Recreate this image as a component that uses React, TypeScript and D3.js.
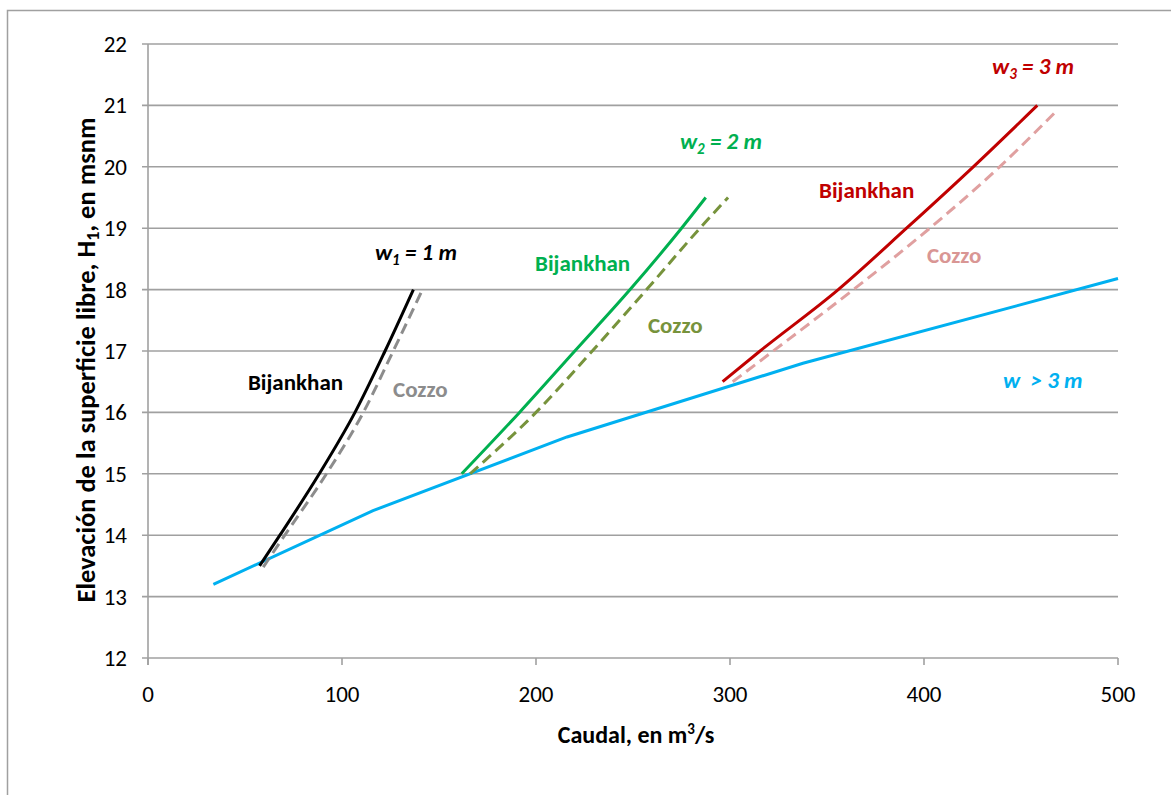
import React, { useRef, useEffect } from "react";
import * as d3 from "d3";

type Pt = [number, number];

// caudal (m3/s), elevación H1 (msnm)
const bijankhanW1: Pt[] = [[57.5, 13.5], [68, 14], [88.3, 15], [106.7, 16], [122.2, 17], [136.8, 18]];
const cozzoW1: Pt[] = [[59.4, 13.48], [70.5, 14], [92, 15], [111, 16], [126.4, 17], [141.5, 18]];
const bijankhanW2: Pt[] = [[161.7, 15], [191.5, 16], [220, 17], [248.5, 18], [275, 19], [287.5, 19.5]];
const cozzoW2: Pt[] = [[166, 15], [200, 16], [229, 17], [257, 18], [284.5, 19], [299, 19.5]];
const bijankhanW3: Pt[] = [[296.2, 16.5], [315.5, 17], [355.8, 18], [391, 19], [425.4, 20], [458.4, 21]];
const cozzoW3: Pt[] = [[301.4, 16.5], [322.3, 17], [363.6, 18], [403, 19], [439, 20], [468, 20.9]];
const wideChannel: Pt[] = [[33.7, 13.2], [116, 14.4], [216, 15.6], [337.6, 16.8], [500, 18.18]];

const xTicks = [0, 100, 200, 300, 400, 500];
const yTicks = [12, 13, 14, 15, 16, 17, 18, 19, 20, 21, 22];

const series = [
  { data: wideChannel, color: "#00b0f0", dash: null, curve: d3.curveLinear },
  { data: cozzoW1, color: "#8c8c8c", dash: "11,6", curve: d3.curveMonotoneX },
  { data: bijankhanW1, color: "#000000", dash: null, curve: d3.curveMonotoneX },
  { data: cozzoW2, color: "#77933c", dash: "11,6", curve: d3.curveMonotoneX },
  { data: bijankhanW2, color: "#00b050", dash: null, curve: d3.curveMonotoneX },
  { data: cozzoW3, color: "#e0a0a0", dash: "11,6", curve: d3.curveMonotoneX },
  { data: bijankhanW3, color: "#c00000", dash: null, curve: d3.curveMonotoneX },
];

// text labels: [x, y] in data units
const labels = [
  { text: "Bijankhan", at: [51.5, 16.36], color: "#000000" },
  { text: "Cozzo", at: [126.3, 16.25], color: "#8c8c8c" },
  { text: "Bijankhan", at: [199.5, 18.3], color: "#00b050" },
  { text: "Cozzo", at: [257.7, 17.29], color: "#77933c" },
  { text: "Bijankhan", at: [345.9, 19.49], color: "#c00000" },
  { text: "Cozzo", at: [401.5, 18.43], color: "#d99694" },
];
const widthLabels = [
  { sub: "1", val: "1", at: [117, 18.48], color: "#000000" },
  { sub: "2", val: "2", at: [274.2, 20.29], color: "#00b050" },
  { sub: "3", val: "3", at: [435.1, 21.51], color: "#c00000" },
];

const FONT = "Carlito, Calibri, Lato, sans-serif";

export default function App() {
  const ref = useRef<SVGSVGElement | null>(null);

  useEffect(() => {
    const width = 1171;
    const height = 795;
    const svg = d3.select(ref.current);
    svg.selectAll("*").remove();
    svg.attr("width", width).attr("height", height);

    const x = d3.scaleLinear().domain([0, 500]).range([148, 1118]);
    const y = d3.scaleLinear().domain([12, 22]).range([658, 44]);

    svg.append("rect")
      .attr("x", 7.5).attr("y", 10.5)
      .attr("width", 1200).attr("height", 900)
      .attr("fill", "#fff")
      .attr("stroke", "#a0a0a0")
      .attr("stroke-width", 1.5);

    // grid
    svg.append("g")
      .selectAll("line")
      .data(yTicks)
      .enter()
      .append("line")
      .attr("x1", 142).attr("x2", x(500))
      .attr("y1", (d) => y(d)).attr("y2", (d) => y(d))
      .attr("stroke", "#a0a0a0")
      .attr("stroke-width", 1.6);

    svg.append("line")
      .attr("x1", x(0)).attr("x2", x(0))
      .attr("y1", y(22)).attr("y2", y(12) + 7)
      .attr("stroke", "#a0a0a0")
      .attr("stroke-width", 1.6);

    svg.append("g")
      .selectAll("line")
      .data(xTicks)
      .enter()
      .append("line")
      .attr("x1", (d) => x(d)).attr("x2", (d) => x(d))
      .attr("y1", y(12)).attr("y2", y(12) + 7)
      .attr("stroke", "#a0a0a0")
      .attr("stroke-width", 1.6);

    // tick labels
    svg.append("g")
      .selectAll("text")
      .data(yTicks)
      .enter()
      .append("text")
      .attr("x", 127)
      .attr("y", (d) => y(d) + 8)
      .attr("text-anchor", "end")
      .attr("font-family", FONT)
      .attr("font-size", 23)
      .attr("fill", "#000")
      .text((d) => d);

    svg.append("g")
      .selectAll("text")
      .data(xTicks)
      .enter()
      .append("text")
      .attr("x", (d) => x(d))
      .attr("y", 702)
      .attr("text-anchor", "middle")
      .attr("font-family", FONT)
      .attr("font-size", 23)
      .attr("fill", "#000")
      .text((d) => d);

    // axis titles
    const xt = svg.append("text")
      .attr("x", (x(0) + x(500)) / 2 + 3)
      .attr("y", 743)
      .attr("text-anchor", "middle")
      .attr("font-family", FONT)
      .attr("font-size", 24)
      .attr("font-weight", "bold")
      .attr("fill", "#000");
    xt.append("tspan").text("Caudal, en m");
    xt.append("tspan").attr("font-size", 15).attr("dy", -9).text("3");
    xt.append("tspan").attr("dy", 9).text("/s");

    const yt = svg.append("text")
      .attr("transform", `translate(95,${(y(12) + y(22)) / 2 + 9}) rotate(-90)`)
      .attr("text-anchor", "middle")
      .attr("font-family", FONT)
      .attr("font-size", 26.5)
      .attr("font-weight", "bold")
      .attr("fill", "#000");
    yt.append("tspan").text("Elevación de la superficie libre, H");
    yt.append("tspan").attr("font-size", 18).attr("dy", 4).text("1");
    yt.append("tspan").attr("dy", -4).text(", en msnm");

    // lines
    series.forEach((s) => {
      const line = d3.line<Pt>()
        .x((d) => x(d[0]))
        .y((d) => y(d[1]))
        .curve(s.curve);
      svg.append("path")
        .datum(s.data)
        .attr("d", line)
        .attr("fill", "none")
        .attr("stroke", s.color)
        .attr("stroke-width", 3)
        .attr("stroke-dasharray", s.dash)
        .attr("stroke-linecap", "butt");
    });

    // labels
    labels.forEach((l) => {
      svg.append("text")
        .attr("x", x(l.at[0]))
        .attr("y", y(l.at[1]))
        .attr("font-family", FONT)
        .attr("font-size", 23)
        .attr("font-weight", "bold")
        .attr("fill", l.color)
        .text(l.text);
    });

    widthLabels.forEach((l) => {
      const t = svg.append("text")
        .attr("x", x(l.at[0]))
        .attr("y", y(l.at[1]))
        .attr("font-family", FONT)
        .attr("font-size", 23)
        .attr("font-weight", "bold")
        .attr("font-style", "italic")
        .attr("fill", l.color);
      t.append("tspan").text("w");
      t.append("tspan").attr("font-size", 15).attr("dy", 5).text(l.sub);
      t.append("tspan").attr("dy", -5).text(` = ${l.val} m`);
    });

    svg.append("text")
      .attr("x", x(440.7))
      .attr("y", y(16.4))
      .attr("font-family", FONT)
      .attr("font-size", 23)
      .attr("font-weight", "bold")
      .attr("font-style", "italic")
      .attr("fill", "#00b0f0")
      .attr("xml:space", "preserve")
      .text("w  > 3 m");
  }, []);

  return (
    <div style={{ position: "absolute", left: 0, top: 0 }}>
      <svg ref={ref} style={{ display: "block" }}></svg>
    </div>
  );
}
